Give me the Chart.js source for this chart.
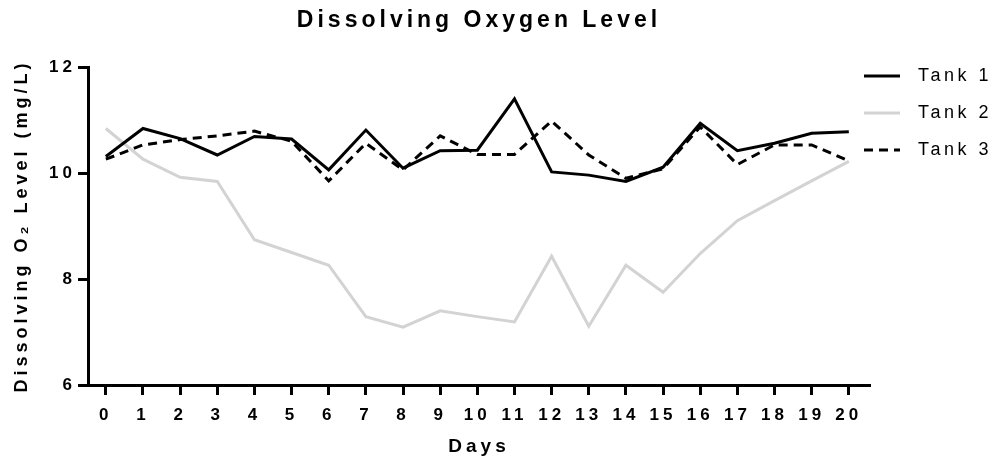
<!DOCTYPE html>
<html>
<head>
<meta charset="utf-8">
<script src="https://cdn.jsdelivr.net/npm/chart.js@4.4.1/dist/chart.umd.min.js"></script>
<style>
  html, body { margin: 0; padding: 0; background: #fff; }
  #wrap { position: relative; width: 1002px; height: 463px; }
  #legend-container { position: absolute; left: 864px; top: 0; font-family: "Liberation Sans", Arial, sans-serif; }
  #legend-container ul { list-style: none; margin: 0; padding: 0; }
  #legend-container li { position: absolute; left: 0; height: 20px; width: 140px; }
  #legend-container svg { position: absolute; left: 0; top: 8px; }
  #legend-container span { position: absolute; left: 54px; top: -1px; font-size: 18px; letter-spacing: 3.5px; color: #000; white-space: nowrap; }
</style>
</head>
<body>
<div id="wrap">
  <canvas id="myChart" width="1002" height="463"></canvas>
  <div id="legend-container"></div>
</div>
<script>
// Datos
const days = [0, 1, 2, 3, 4, 5, 6, 7, 8, 9, 10, 11, 12, 13, 14, 15, 16, 17, 18, 19, 20]
const tank1 = [10.31, 10.84, 10.65, 10.34, 10.69, 10.64, 10.06, 10.81, 10.09, 10.42, 10.43, 11.40, 10.02, 9.96, 9.84, 10.11, 10.94, 10.42, 10.56, 10.75, 10.78]
const tank2 = [10.84, 10.26, 9.92, 9.84, 8.74, 8.50, 8.26, 7.29, 7.09, 7.40, 7.29, 7.19, 8.43, 7.11, 8.26, 7.75, 8.48, 9.10, 9.48, 9.85, 10.22]
const tank3 = [10.26, 10.53, 10.63, 10.70, 10.79, 10.60, 9.85, 10.56, 10.06, 10.70, 10.35, 10.35, 10.98, 10.34, 9.90, 10.08, 10.87, 10.16, 10.53, 10.53, 10.23]
const yTicks = [6, 8, 10, 12]

const seriesNames = ['Tank 1', 'Tank 2', 'Tank 3']
const seriesColors = ['#000000', '#d3d3d3', '#000000']
const seriesDash = [[], [], [9, 6]]

const FONT = '"Liberation Sans", Arial, sans-serif'

// Espaciado entre letras para todo el texto del canvas
const letterSpacingPlugin = {
  id: 'letterSpacing',
  beforeInit(chart) { chart.ctx.letterSpacing = '4px' },
  beforeDraw(chart) { chart.ctx.letterSpacing = '4px' }
}

// Leyenda en HTML con muestras de linea
const htmlLegendPlugin = {
  id: 'htmlLegend',
  afterUpdate(chart) {
    const container = document.getElementById('legend-container')
    container.innerHTML = ''
    const ul = document.createElement('ul')
    chart.data.datasets.forEach((ds, i) => {
      const li = document.createElement('li')
      li.style.top = (66 + i * 37) + 'px'
      const dash = ds.borderDash.length ? `stroke-dasharray="${ds.borderDash.join(' ')}"` : ''
      li.innerHTML = `<svg width="36" height="4"><line x1="0" y1="2" x2="36" y2="2" stroke="${ds.borderColor}" stroke-width="3" ${dash}/></svg>`
      const text = document.createElement('span')
      text.textContent = ds.label
      li.appendChild(text)
      ul.appendChild(li)
    })
    container.appendChild(ul)
  }
}

const ctx = document.getElementById('myChart').getContext('2d')
const myChart = new Chart(ctx, {
  type: 'line',
  data: {
    labels: days,
    datasets: [tank1, tank2, tank3].map((values, i) => ({
      label: seriesNames[i],
      data: values,
      borderColor: seriesColors[i],
      borderWidth: 3,
      borderDash: seriesDash[i],
      pointRadius: 0,
      tension: 0,
      fill: false
    }))
  },
  options: {
    responsive: false,
    animation: false,
    devicePixelRatio: 1,
    layout: { padding: { left: 0, right: 132, top: 0, bottom: 0 } },
    scales: {
      x: {
        type: 'linear',
        min: -0.48,
        max: 20.57,
        afterBuildTicks(scale) { scale.ticks = days.map(d => ({ value: d })) },
        afterFit(scale) { scale.height = 78 },
        border: { color: '#000', width: 3 },
        grid: { drawOnChartArea: false, drawTicks: true, tickLength: 10, tickWidth: 3, tickColor: '#000' },
        ticks: { color: '#000', font: { family: FONT, size: 17, weight: 'bold' }, padding: 10, autoSkip: false, maxRotation: 0 },
        title: { display: true, text: 'Days', color: '#000', font: { family: FONT, size: 19, weight: 'bold' }, padding: { top: 0, bottom: 5 } }
      },
      y: {
        min: 6,
        max: 12,
        afterBuildTicks(scale) { scale.ticks = yTicks.map(v => ({ value: v })) },
        afterFit(scale) { scale.width = 88 },
        border: { color: '#000', width: 3 },
        grid: { drawOnChartArea: false, drawTicks: true, tickLength: 10, tickWidth: 3, tickColor: '#000' },
        ticks: { color: '#000', font: { family: FONT, size: 17, weight: 'bold' }, padding: 2 },
        title: { display: true, text: 'Dissolving O₂ Level (mg/L)', color: '#000', font: { family: FONT, size: 18, weight: 'bold' }, padding: { top: 11, bottom: 0 } }
      }
    },
    plugins: {
      title: {
        display: true,
        fullSize: false,
        text: 'Dissolving Oxygen Level',
        color: '#000',
        font: { family: FONT, size: 23, weight: 'bold' },
        padding: { top: 7, bottom: 67 - 7 - 23 * 1.2 }
      },
      legend: { display: false },
      tooltip: { enabled: false }
    }
  },
  plugins: [letterSpacingPlugin, htmlLegendPlugin]
})
</script>
</body>
</html>
